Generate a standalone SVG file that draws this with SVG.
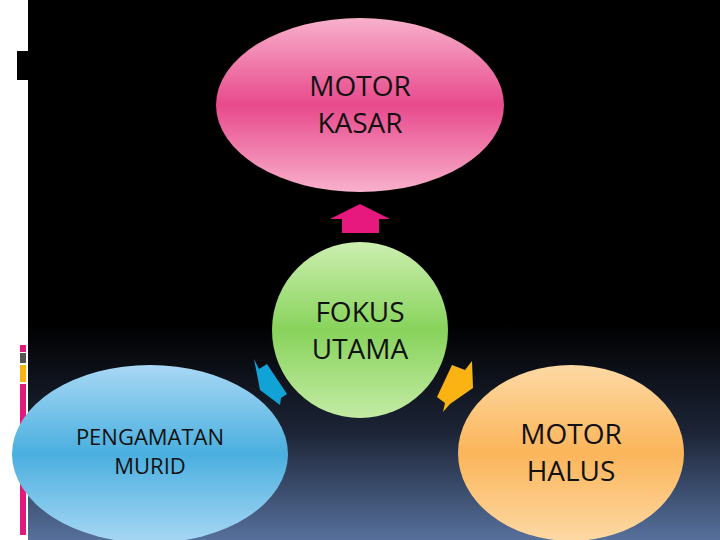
<svg xmlns="http://www.w3.org/2000/svg" width="720" height="540" viewBox="0 0 720 540">
<defs>
<linearGradient id="bg" x1="0" y1="0" x2="0" y2="1"><stop offset="0" stop-color="#000"/><stop offset="0.6" stop-color="#000"/><stop offset="0.8" stop-color="#1c2436"/><stop offset="1" stop-color="#56709c"/></linearGradient>
<linearGradient id="gp" x1="0" y1="0" x2="0" y2="1"><stop offset="0" stop-color="#f8b0cc"/><stop offset="0.5" stop-color="#e84a8c"/><stop offset="1" stop-color="#f8b0cc"/></linearGradient>
<linearGradient id="gg" x1="0" y1="0" x2="0" y2="1"><stop offset="0" stop-color="#cdefb0"/><stop offset="0.5" stop-color="#88d35c"/><stop offset="1" stop-color="#c3eba4"/></linearGradient>
<linearGradient id="gb" x1="0" y1="0" x2="0" y2="1"><stop offset="0" stop-color="#a8d8f4"/><stop offset="0.5" stop-color="#4aafdf"/><stop offset="1" stop-color="#a8d8f4"/></linearGradient>
<linearGradient id="go" x1="0" y1="0" x2="0" y2="1"><stop offset="0" stop-color="#fdd9a4"/><stop offset="0.5" stop-color="#fbb55a"/><stop offset="1" stop-color="#fdd9a4"/></linearGradient>
<style>text{font-family:"Open Sans","Liberation Sans",sans-serif;fill:#111;text-anchor:middle}.b{font-size:28px}.s{font-size:22px}</style>
</defs>
<rect width="720" height="540" fill="#fff"/>
<rect x="28" width="692" height="540" fill="url(#bg)"/>
<rect x="17" y="51" width="11" height="29" fill="#000"/>
<rect x="20" y="345" width="6" height="7" fill="#e0197a"/>
<rect x="20" y="353" width="6" height="10" fill="#555"/>
<rect x="20" y="365" width="6" height="17" fill="#fbb314"/>
<rect x="20" y="384" width="6" height="151" fill="#e0197a"/>
<g id="connectors">
<polygon points="360,204 390,219 379,219 379,233 342,233 342,219 330,219" fill="#e8197e"/>
<polygon points="254,359 259,369 267,364 287,394 281,398 280,405 260,390" fill="#12a3d6"/>
<polygon points="452,365 465,370 472,361 473,388 450,404 443,412 445,403 437,397" fill="#fbb314"/>
</g>
<g id="motor-kasar"><ellipse cx="360" cy="105" rx="144" ry="87" fill="url(#gp)"/><text class="b" x="360" y="96">MOTOR</text><text class="b" x="360" y="133">KASAR</text></g>
<g id="fokus-utama"><circle cx="360" cy="330" r="88" fill="url(#gg)"/><text class="b" x="360" y="322">FOKUS</text><text class="b" x="360" y="359">UTAMA</text></g>
<g id="pengamatan"><ellipse cx="150" cy="454" rx="138" ry="89" fill="url(#gb)"/><text class="s" x="150" y="445">PENGAMATAN</text><text class="s" x="150" y="474">MURID</text></g>
<g id="motor-halus"><ellipse cx="571" cy="453" rx="113" ry="88" fill="url(#go)"/><text class="b" x="571" y="444">MOTOR</text><text class="b" x="571" y="481">HALUS</text></g>
</svg>
